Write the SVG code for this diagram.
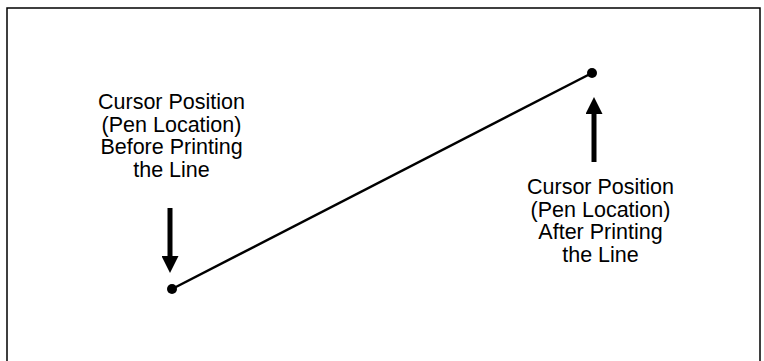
<svg xmlns="http://www.w3.org/2000/svg" width="764" height="361" viewBox="0 0 764 361">
  <style>
    .frame { fill: none; stroke: #000; stroke-width: 1.5; }
    .label { font-family: "Liberation Sans", Arial, sans-serif; font-size: 21.5px; fill: #000; text-anchor: middle; }
    .stroke { stroke: #000; stroke-width: 2.5; fill: none; }
    .shaft { stroke: #000; stroke-width: 5; }
    .dot { fill: #000; }
  </style>
  <defs>
    <marker id="head" viewBox="0 0 10 10" refX="0" refY="5" markerWidth="3.4" markerHeight="3.4" markerUnits="strokeWidth" orient="auto">
      <path d="M0,0 L10,5 L0,10 Z" fill="#000"/>
    </marker>
  </defs>

  <!-- outer frame, open at the bottom -->
  <path class="frame" d="M7,362 V8 H760 V362"/>

  <!-- printed line between the two pen locations -->
  <g id="connectors">
    <line class="stroke" x1="172" y1="289" x2="592" y2="73"/>
    <line class="shaft" x1="170" y1="208" x2="170" y2="256" marker-end="url(#head)"/>
    <line class="shaft" x1="594" y1="162" x2="594" y2="114" marker-end="url(#head)"/>
  </g>

  <g id="start-point">
    <circle class="dot" cx="172" cy="289" r="5"/>
  </g>
  <g id="end-point">
    <circle class="dot" cx="592" cy="73" r="5"/>
  </g>

  <g id="label-before">
    <text class="label" x="171.5" y="109">Cursor Position</text>
    <text class="label" x="171.5" y="131.5">(Pen Location)</text>
    <text class="label" x="171.5" y="154">Before Printing</text>
    <text class="label" x="171.5" y="176.5">the Line</text>
  </g>

  <g id="label-after">
    <text class="label" x="600.5" y="194">Cursor Position</text>
    <text class="label" x="600.5" y="216.5">(Pen Location)</text>
    <text class="label" x="600.5" y="239">After Printing</text>
    <text class="label" x="600.5" y="261.5">the Line</text>
  </g>
</svg>
